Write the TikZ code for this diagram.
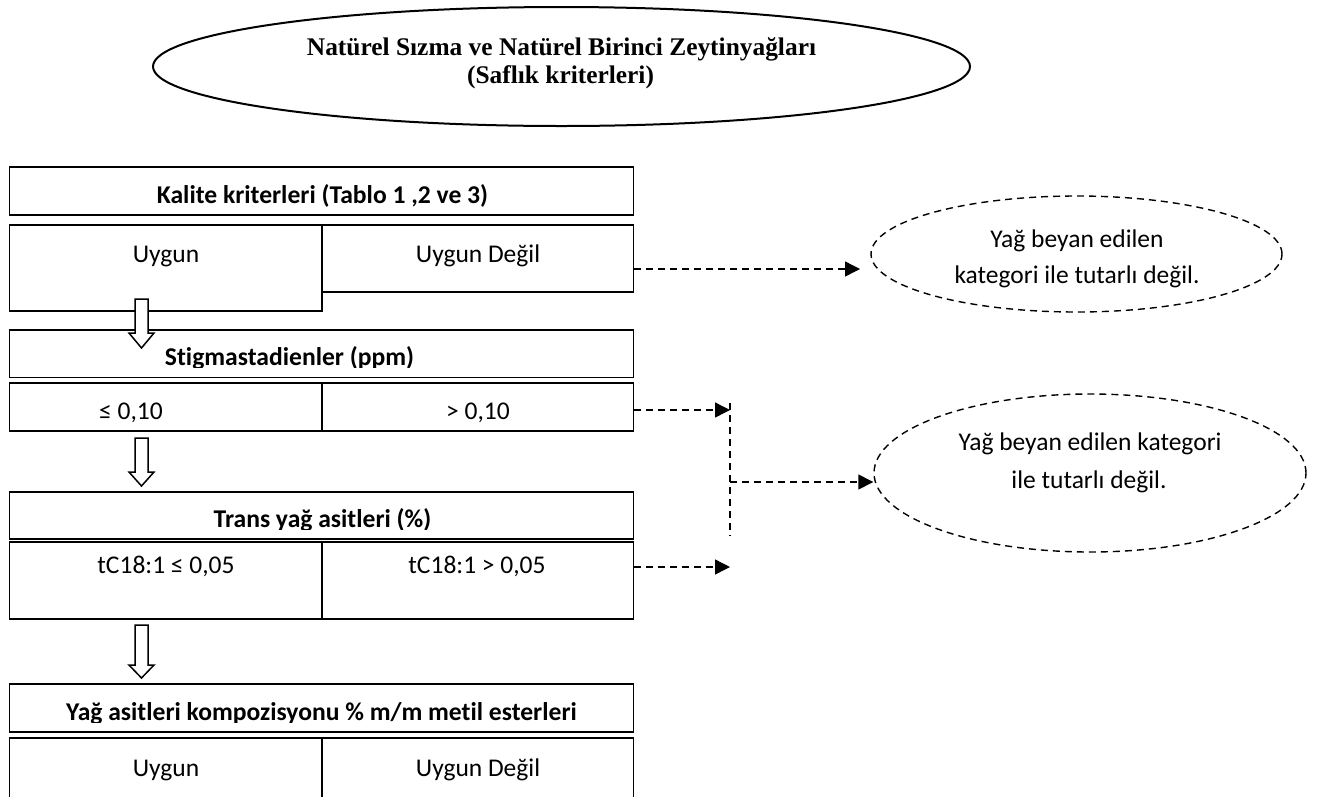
\documentclass[tikz,border=0pt]{standalone}
\usepackage{fontspec}
\setmainfont{Liberation Serif}
\newfontfamily\calfont[Ligatures=NoCommon]{Carlito}
\usetikzlibrary{arrows.meta,fit,shapes.geometric}
\newcommand\harrow[4]{\draw[hollow] (#1-6.5,#2) -- (#1+6.5,#2) -- (#1+6.5,#3) -- (#1+12.5,#3) -- (#1,#4) -- (#1-12.5,#3) -- (#1-6.5,#3) -- cycle;}
\begin{document}
\begin{tikzpicture}[x=1pt,y=-1pt,
 box/.style={draw, line width=1.9pt, inner sep=0pt},
 hdr/.style={font=\calfont\bfseries\fontsize{25.6}{30}\selectfont, anchor=base, inner sep=0pt},
 cell/.style={font=\calfont\fontsize{25.5}{30}\selectfont, anchor=base, inner sep=0pt},
 ttl/.style={font=\bfseries\fontsize{25.4}{30}\selectfont, anchor=base, inner sep=0pt},
 dline/.style={dash pattern=on 7pt off 5pt, line width=1.4pt},
 dtip/.style={-{Triangle[length=15pt,width=15pt]}},
 hollow/.style={draw, fill=white, line width=1.5pt, line join=miter},
 dell/.style={ellipse, draw, dash pattern=on 7pt off 5pt, line width=1.4pt, inner sep=0pt},
]
\clip (0,0) rectangle (1330,796);
\fill[white] (0,0) rectangle (1330,796);

% title ellipse
\node[ellipse, draw, line width=2pt, minimum width=817pt, minimum height=119pt, inner sep=0pt] (top) at (561.5,66.5) {};
\node[ttl] (top1) at (561.5,55) {Natürel Sızma ve Natürel Birinci Zeytinyağları};
\node[ttl] (top2) at (560.5,83.5) {(Saflık kriterleri)};

% boxes
\node[box, fit={(9.5,167) (633.5,215)}] (h1) {};
\node[box, fit={(9.5,225) (322,311)}] (r1l) {};
\node[box, fit={(322,225) (633.5,292)}] (r1r) {};
\node[box, fit={(9.5,330) (633.5,377.5)}] (h2) {};
\node[box, fit={(9.5,383) (322,431)}] (r2l) {};
\node[box, fit={(322,383) (633.5,431)}] (r2r) {};
\node[box, fit={(9.5,492) (633.5,539)}] (h3) {};
\node[box, fit={(9.5,542) (322,619)}] (r3l) {};
\node[box, fit={(322,542) (633.5,619)}] (r3r) {};
\node[box, fit={(9.5,684) (633.5,732)}] (h4) {};
\node[box, fit={(9.5,738) (322,812)}] (r4l) {};
\node[box, fit={(322,738) (633.5,812)}] (r4r) {};

% texts
\node[hdr] (h1t) at (322.5,203) {Kalite kriterleri (Tablo 1 ,2 ve 3)};
\node[cell] (r1lt) at (166,262) {Uygun};
\node[cell] (r1rt) at (478,262) {Uygun Değil};
\begin{scope}
\clip (9.5,330) rectangle (633.5,367.5);
\node[hdr] (h2t) at (289.5,365) {Stigmastadienler (ppm)};
\end{scope}
\node[cell] (r2lt) at (131,419) {≤ 0,10};
\node[cell] (r2rt) at (478,419) {> 0,10};
\begin{scope}
\clip (9.5,492) rectangle (633.5,529.5);
\node[hdr] (h3t) at (322.5,527) {Trans yağ asitleri (\%)};
\end{scope}
\node[cell] (r3lt) at (166,573) {tC18:1 ≤ 0,05};
\node[cell] (r3rt) at (477,573) {tC18:1 > 0,05};
\begin{scope}
\clip (9.5,684) rectangle (633.5,722.5);
\node[hdr] (h4t) at (321.5,720) {Yağ asitleri kompozisyonu \% m/m metil esterleri};
\end{scope}
\node[cell] (r4lt) at (166,776) {Uygun};
\node[cell] (r4rt) at (478,776) {Uygun Değil};

% hollow arrows
\harrow{141.5}{299}{333}{348}
\harrow{141.5}{438}{472}{486}
\harrow{141.5}{625}{665}{678}

% dashed ellipses
\node[dell, minimum width=411pt, minimum height=116pt] (e1) at (1076.5,254) {};
\node[cell] (e1a) at (1077,247) {Yağ beyan edilen};
\node[cell] (e1b) at (1077,283) {kategori ile tutarlı değil.};
\node[dell, minimum width=432pt, minimum height=158pt] (e2) at (1090,473) {};
\node[cell] (e2a) at (1090,450) {Yağ beyan edilen kategori};
\node[cell] (e2b) at (1089,488) {ile tutarlı değil.};

% dashed connectors
\coordinate (t1) at (860,269);
\coordinate (t2) at (730,410);
\coordinate (t3) at (730,567);
\coordinate (v1) at (730,403);
\coordinate (v2) at (730,536);
\coordinate (j) at (730,482);
\draw[dline,dtip] (r1r.east |- t1) -- (t1);
\draw[dline,dtip] (r2r.east |- t2) -- (t2);
\draw[dline,dtip] (r3r.east |- t3) -- (t3);
\draw[dline] (v1) -- (v2);
\draw[dline,dtip] (j) -- (j -| e2.west);
\end{tikzpicture}
\end{document}
